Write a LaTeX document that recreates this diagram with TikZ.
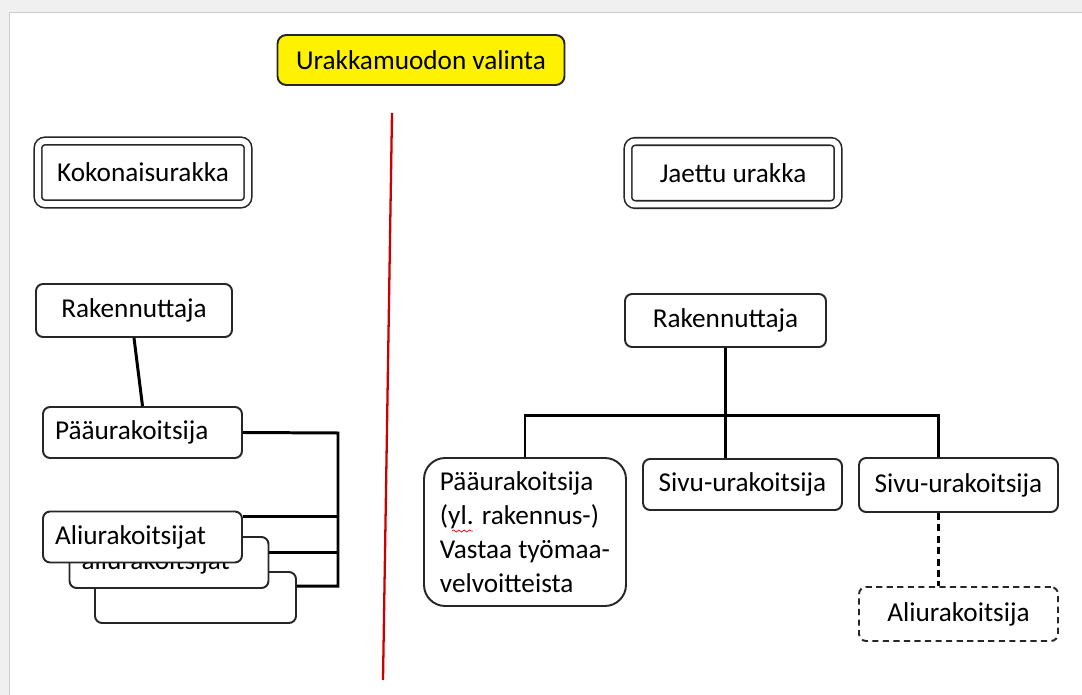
\documentclass[tikz,border=0pt]{standalone}
\usepackage{fontspec}
\setmainfont{Carlito}
\usetikzlibrary{positioning, calc, decorations.pathmorphing}

\begin{document}
\begin{tikzpicture}[x=0.02cm, y=-0.02cm,
    every node/.style={font=\fontsize{15.5}{19.4}\selectfont},
    box/.style={draw=black!85, line width=1.1pt, rounded corners=4pt, fill=white,
      minimum width=3.98cm, minimum height=1.02cm},
    lbox/.style={box, text width=3.5cm, inner xsep=0.24cm, align=left},
    dbox/.style={box, double, double distance=3.4pt, line width=0.9pt,
      minimum width=4.2cm, minimum height=1.26cm},
    conn/.style={line width=1.7pt}]

        % Page
        \useasboundingbox (0,0) rectangle (1082,695);
        \fill[gray!12] (0,0) rectangle (1082,695);
        \fill[white] (9,12) rectangle (1082,695);
        \draw[gray!40] (9,695) -- (9,12) -- (1082,12);

        % Title
        \node[box, fill=yellow, minimum width=5.74cm, minimum height=1cm, rounded corners=5pt] (valinta) at (421,60) {Urakkamuodon valinta};

        % Divider
        \coordinate (jakoA) at (392,113);
        \coordinate (jakoB) at (383,680);
        \draw[red!80!black, line width=1.3pt] (jakoA) -- (jakoB);

        % Left side
        \node[dbox] (koko) at (143,172.5) {Kokonaisurakka};
        \node[box, minimum width=3.92cm, minimum height=1.06cm] (lrak) at (134,310.5) {Rakennuttaja};
        \node[lbox] (lpaa) at (142.5,432.5) {Pääurakoitsija};
        \node[box, minimum width=4.02cm] (lali3) at (195.5,597.5) {};
        \node[lbox] (lali2) at (169,562.5) {aliurakoitsijat};
        \node[lbox] (lali1) at (142.5,537) {Aliurakoitsijat};

        \coordinate (lbus) at (338,433);
        \coordinate (a1) at ($(lali1.north east)+(0,6)$);
        \coordinate (a2) at ($(lali2.north east)+(0,16)$);
        \coordinate (a3) at ($(lali3.north east)+(0,15)$);
        \draw[conn] (lrak.south) -- (lpaa.north);
        \draw[conn] (lpaa.east) -- (lbus) |- (a3);
        \draw[conn] (a1) -- (a1 -| lbus);
        \draw[conn] (a2) -- (a2 -| lbus);

        % Right side
        \node[dbox] (jaettu) at (733,173) {Jaettu urakka};
        \node[box, minimum width=4.02cm, minimum height=1.06cm] (rrak) at (725.5,320.5) {Rakennuttaja};
        \node[box, rounded corners=12pt, minimum width=4.04cm, minimum height=2.96cm, align=left] (rpaa) at (525,532)
          {Pääurakoitsija\\(yl. rakennus-)\\Vastaa työmaa-\\velvoitteista};
        \node[box] (rsivu1) at (742.5,484.5) {Sivu-urakoitsija};
        \node[box, minimum height=1.08cm] (rsivu2) at (958.5,485) {Sivu-urakoitsija};
        \node[box, dash pattern=on 3.5pt off 2.5pt, minimum height=1.08cm] (rali) at (958.5,614) {Aliurakoitsija};

        \draw[red, decorate, decoration={snake, amplitude=0.6pt, segment length=3pt}] (452,531) -- (473,531);

        \coordinate (s2top) at ([xshift=-0.4cm]rsivu2.north);
        \draw[conn] (rrak.south) -- ++(0,68) coordinate (rbar);
        \draw[conn] (rpaa.north) |- (s2top |- rbar) -- (s2top);
        \draw[conn] (rbar) -- (rbar |- rsivu1.north);
        \draw[conn, dash pattern=on 4pt off 2.5pt] ([xshift=-0.4cm]rsivu2.south) -- ([xshift=-0.4cm]rali.north);
      \end{tikzpicture}
\end{document}
